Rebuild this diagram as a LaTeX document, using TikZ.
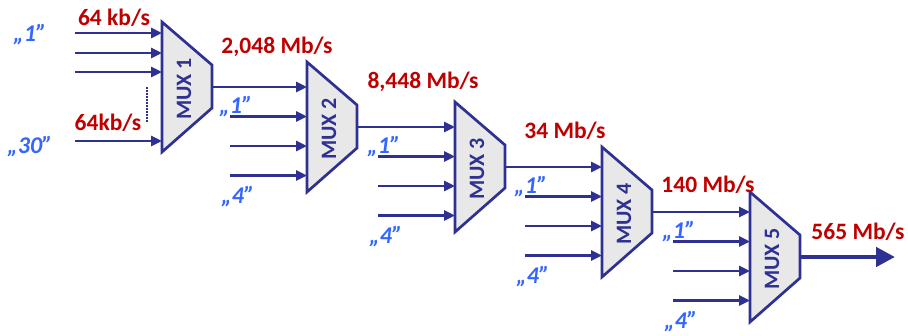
\documentclass[tikz,border=0pt]{standalone}
\usepackage{fontspec}
\setmainfont{Carlito}
\usepackage{tikz}
\usetikzlibrary{arrows.meta,calc}

\definecolor{muxblue}{HTML}{2E3192}
\definecolor{ratered}{HTML}{C00000}
\definecolor{chanblue}{HTML}{3366FF}
\definecolor{muxgray}{HTML}{E8E8E8}

\tikzset{
    muxbox/.style={draw=muxblue,fill=muxgray,line width=2.7pt,line join=miter},
    muxtext/.style={text=muxblue,font=\fontsize{22}{24}\selectfont\bfseries,rotate=90,inner sep=0pt},
    rate/.style={text=ratered,font=\fontsize{23.5}{26}\selectfont\bfseries,inner sep=0pt},
    chan/.style={text=chanblue,font=\fontsize{24}{26}\selectfont\bfseries\itshape,inner sep=0pt},
    feed/.style={draw=muxblue,line width=2.7pt,-{Triangle[length=11pt,width=10pt]}},
    trunk/.style={draw=muxblue,line width=4.5pt,-{Triangle[length=19pt,width=19pt]}}
}

\begin{document}
\begin{tikzpicture}[x=1pt,y=-1pt]
    \useasboundingbox (0,0) rectangle (908,335);

    \foreach \n/\L/\T in {1/162/22,2/307/62,3/455/102,4/602/147,5/750/192} {
        \draw[muxbox] (\L,\T) -- ++(50,43) -- ++(0,43) -- ++(-50,44) -- cycle;
        \coordinate (m\n-left) at (\L,\T);
        \coordinate (m\n-out) at (\L+50,\T+65);
        \node[muxtext] (m\n) at (\L+22,\T+67) {MUX \n};
    }

    % first stage: 30 channels
    \foreach \k/\y in {1/33,2/53,3/72,4/141} {
        \coordinate (m1-s\k) at (75,\y);
        \draw[feed] (m1-s\k) -- (m1-s\k -| m1-left);
    }
    \draw[muxblue,line width=2pt,dash pattern=on 1.5pt off 1.5pt] (147,87) -- (147,123);
    \node[chan] (c1) at (30,35) {„1”};
    \node[chan] (c30) at (30,147) {„30”};
    \node[rate] (r0) at (114,18) {64 kb/s};
    \node[rate] (r0b) at (108,123) {64kb/s};

    % higher stages
    \foreach \n/\p in {2/1,3/2,4/3,5/4} {
        \draw[feed] (m\p-out) -- (m\p-out -| m\n-left);
        \foreach \k in {1,2,3} {
            \coordinate (m\n-s\k) at ($(m\p-out -| m\n-left)+(-77,29.5*\k)$);
            \draw[feed] (m\n-s\k) -- (m\n-s\k -| m\n-left);
        }
        \node[chan] (m\n-c1) at ($(m\n-s1)+(6,-10)$) {„1”};
        \node[chan] (m\n-c4) at ($(m\n-s3)+(8,21)$) {„4”};
    }

    \node[rate] (r1) at (277,47) {2,048 Mb/s};
    \node[rate] (r2) at (423,82) {8,448 Mb/s};
    \node[rate] (r3) at (565,131) {34 Mb/s};
    \node[rate] (r4) at (708,185) {140 Mb/s};
    \node[rate] (r5) at (858,232) {565 Mb/s};

    \coordinate (sink) at (895,257);
    \draw[trunk] (m5-out) -- (sink);
\end{tikzpicture}
\end{document}
